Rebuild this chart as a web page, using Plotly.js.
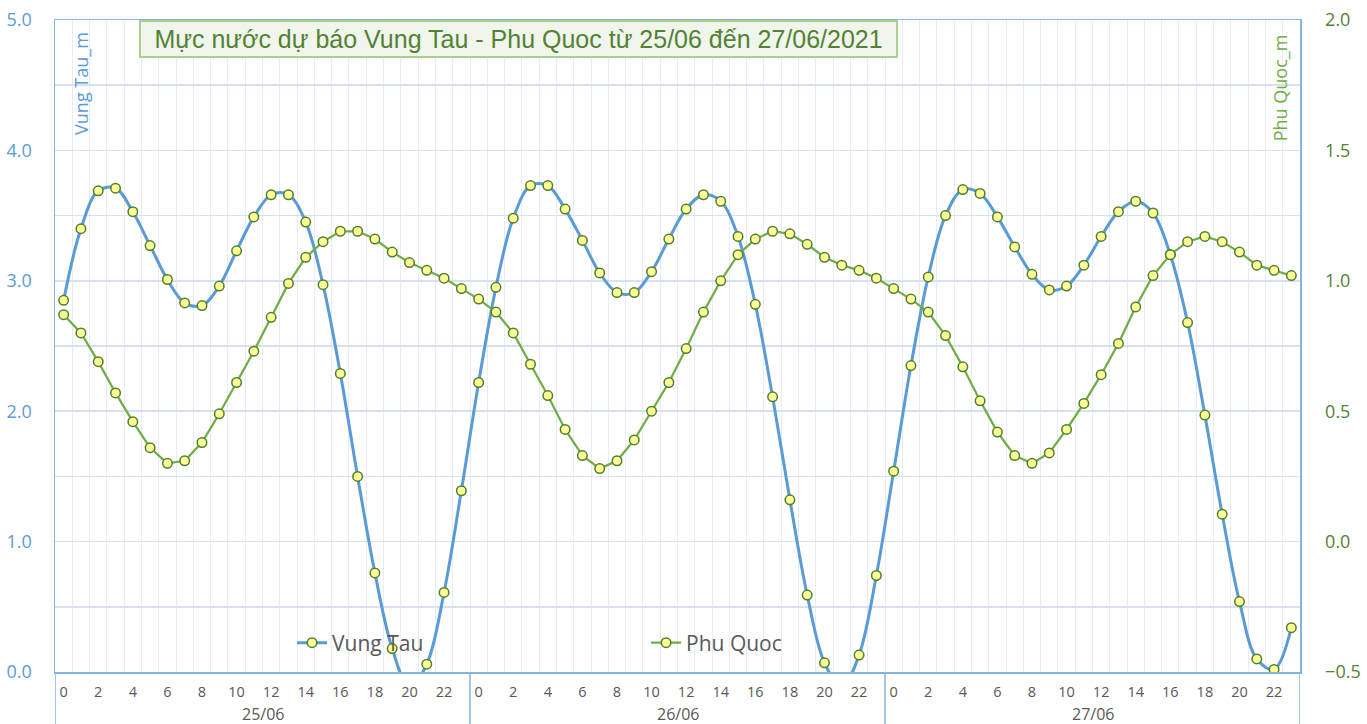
<!DOCTYPE html>
<html>
<head>
<meta charset="utf-8">
<script src="https://cdn.plot.ly/plotly-3.0.1.min.js"></script>
<style>
html,body{margin:0;padding:0;background:#ffffff;}
#chart{width:1367px;height:724px;}
</style>
</head>
<body>
<div id="chart"></div>
<script>
// ---- data ----
const days = ['25/06', '26/06', '27/06'];
const hours = [0,1,2,3,4,5,6,7,8,9,10,11,12,13,14,15,16,17,18,19,20,21,22,23];
const seriesNames = ['Vung Tau', 'Phu Quoc'];
const axisTitles = ['Vung Tau_m', 'Phu Quoc_m'];
const titleText = 'Mực nước dự báo Vung Tau - Phu Quoc từ 25/06 đến 27/06/2021';

const vungTau = [
  2.85, 3.40, 3.69, 3.71, 3.53, 3.27, 3.01, 2.83, 2.81, 2.96, 3.23, 3.49,
  3.66, 3.66, 3.45, 2.97, 2.29, 1.50, 0.76, 0.18, -0.12, 0.06, 0.61, 1.39,
  2.22, 2.95, 3.48, 3.73, 3.73, 3.55, 3.31, 3.06, 2.91, 2.91, 3.07, 3.32,
  3.55, 3.66, 3.61, 3.34, 2.82, 2.11, 1.32, 0.59, 0.07, -0.12, 0.13, 0.74,
  1.54, 2.35, 3.03, 3.50, 3.70, 3.67, 3.49, 3.26, 3.05, 2.93, 2.96, 3.12,
  3.34, 3.53, 3.61, 3.52, 3.20, 2.68, 1.97, 1.21, 0.54, 0.10, 0.02, 0.34
];
const phuQuoc = [
  0.87, 0.80, 0.69, 0.57, 0.46, 0.36, 0.30, 0.31, 0.38, 0.49, 0.61, 0.73,
  0.86, 0.99, 1.09, 1.15, 1.19, 1.19, 1.16, 1.11, 1.07, 1.04, 1.01, 0.97,
  0.93, 0.88, 0.80, 0.68, 0.56, 0.43, 0.33, 0.28, 0.31, 0.39, 0.50, 0.61,
  0.74, 0.88, 1.00, 1.10, 1.16, 1.19, 1.18, 1.14, 1.09, 1.06, 1.04, 1.01,
  0.97, 0.93, 0.88, 0.79, 0.67, 0.54, 0.42, 0.33, 0.30, 0.34, 0.43, 0.53,
  0.64, 0.76, 0.90, 1.02, 1.10, 1.15, 1.17, 1.15, 1.11, 1.06, 1.04, 1.02
];

// ---- derived positions (index along the hour axis) ----
const nH = hours.length;
const xIdx = [];
days.forEach((d, di) => hours.forEach((h, hi) => xIdx.push(di * nH + hi)));
const tickvals = xIdx.filter(i => hours[i % nH] % 2 === 0);
const ticktext = tickvals.map(i => String(hours[i % nH]));

const FONT = '"Open Sans", "Noto Sans", sans-serif';
const BORDER = '#86b3df';

const markerStyle = {
  symbol: 'circle', size: 9.5, color: '#ffff99',
  line: {color: '#4f7f27', width: 1.5}
};

const traces = [
  {
    x: xIdx, y: vungTau, name: seriesNames[0], type: 'scatter', mode: 'lines+markers',
    line: {color: '#5b9bd5', width: 3, shape: 'spline', smoothing: 1},
    marker: markerStyle, yaxis: 'y'
  },
  {
    x: xIdx, y: phuQuoc, name: seriesNames[1], type: 'scatter', mode: 'lines+markers',
    line: {color: '#70ad47', width: 2.25},
    marker: markerStyle, yaxis: 'y2'
  }
];

// day divider lines below the axis and day labels
const shapes = [];
const annotations = [];
for (let di = 0; di <= days.length; di++) {
  shapes.push({
    type: 'line', xref: 'x', yref: 'paper',
    x0: di * nH - 0.5, x1: di * nH - 0.5, y0: 0, y1: -0.09,
    line: {color: BORDER, width: 1.5}
  });
}
days.forEach((d, di) => {
  annotations.push({
    text: d, xref: 'x', yref: 'paper', x: di * nH + (nH - 1) / 2, y: -0.065,
    xanchor: 'center', yanchor: 'middle', showarrow: false,
    font: {family: FONT, size: 16, color: '#595959'}
  });
});

// chart title in a box
annotations.push({
  text: titleText, xref: 'paper', yref: 'paper', x: 0.3723, y: 0.9709,
  xanchor: 'center', yanchor: 'middle', showarrow: false,
  width: 755, height: 34, align: 'center', valign: 'middle',
  font: {family: '"Liberation Sans", Arial, sans-serif', size: 25, color: '#548235'},
  bgcolor: '#f0f6eb', bordercolor: '#a9d18e', borderwidth: 2, borderpad: 0
});
// axis titles (inside plot area, rotated)
annotations.push({
  text: axisTitles[0], xref: 'paper', yref: 'paper', x: 0.0209, y: 0.902,
  xanchor: 'center', yanchor: 'middle', textangle: -90, showarrow: false,
  font: {family: FONT, size: 18, color: '#5b9bd5'}
});
annotations.push({
  text: axisTitles[1], xref: 'paper', yref: 'paper', x: 0.9835, y: 0.896,
  xanchor: 'center', yanchor: 'middle', textangle: -90, showarrow: false,
  font: {family: FONT, size: 18, color: '#70ad47'}
});

const layout = {
  width: 1367, height: 724,
  margin: {l: 55, r: 67, t: 20, b: 52, pad: 0},
  paper_bgcolor: '#ffffff', plot_bgcolor: '#ffffff',
  font: {family: FONT, color: '#595959'},
  showlegend: true,
  legend: {
    orientation: 'h', x: 0.1904, xanchor: 'left', y: 0.0445, yanchor: 'middle',
    bgcolor: 'rgba(0,0,0,0)', font: {family: FONT, size: 21, color: '#595959'},
    entrywidth: 309, entrywidthmode: 'pixels'
  },
  xaxis: {
    range: [-0.5, xIdx.length - 0.5], tickmode: 'array', tickvals: tickvals, ticktext: ticktext,
    showgrid: false, zeroline: false, showline: true, linecolor: BORDER, linewidth: 1.5, mirror: true,
    ticks: '', tickfont: {family: FONT, size: 14.5, color: '#595959'}, ticklabelstandoff: 6,
    minor: {tickmode: 'linear', tick0: -0.5, dtick: 1, showgrid: true, gridcolor: '#e6edf8', gridwidth: 1, ticks: ''},
    fixedrange: true
  },
  yaxis: {
    range: [0, 5], tickmode: 'linear', tick0: 0, dtick: 1, tickformat: '.1f',
    showgrid: true, gridcolor: '#d8e1f1', gridwidth: 1.5,
    minor: {dtick: 0.5, showgrid: true, gridcolor: '#d8e1f1', gridwidth: 1.5, ticks: ''},
    zeroline: false, showline: true, linecolor: BORDER, linewidth: 1.5,
    ticks: '', tickfont: {family: FONT, size: 18, color: '#5b9bd5'}, ticklabelstandoff: 18,
    fixedrange: true
  },
  yaxis2: {
    overlaying: 'y', side: 'right', range: [-0.5, 2.0], tickmode: 'linear', tick0: -0.5, dtick: 0.5,
    tickformat: '.1f', showgrid: false, zeroline: false, showline: true, linecolor: BORDER, linewidth: 1.5,
    ticks: '', tickfont: {family: FONT, size: 18, color: '#548235'}, ticklabelstandoff: 20,
    fixedrange: true
  },
  shapes: shapes,
  annotations: annotations
};

Plotly.newPlot('chart', traces, layout, {displayModeBar: false, staticPlot: true});
</script>
</body>
</html>
